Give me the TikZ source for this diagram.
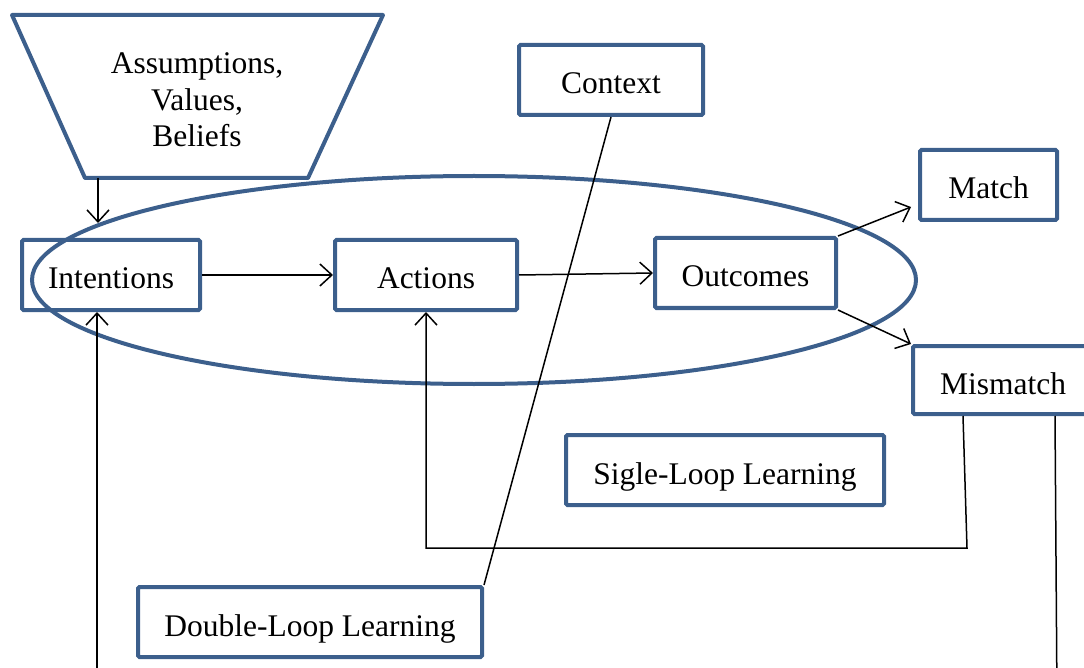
\documentclass[tikz,border=0pt]{standalone}
\usepackage{fontspec}
\setmainfont{Liberation Serif}
\usetikzlibrary{arrows.meta,calc}
\definecolor{boxblue}{RGB}{60,95,140}
\begin{document}
\begin{tikzpicture}[x=1pt,y=-1pt,
  font=\fontsize{31.5}{36.5}\selectfont,
  bx/.style={draw=boxblue,line width=4pt,rounded corners=1.5pt,minimum height=70pt,inner sep=0pt,align=center,text height=28pt,text depth=0pt},
  conn/.style={draw=black,line width=1.5pt},
  arr/.style={conn,-{Straight Barb[length=12pt,width=22pt,line width=1.5pt]}}]
\useasboundingbox (0,0) rectangle (1084,668);
\clip (0,0) rectangle (1084,668);
% trapezoid
\draw[boxblue,line width=4pt,line join=round] (12,15) -- (383,15) -- (308,178) -- (85,178) -- cycle;
\node[align=center] (abv) at (197,100) {Assumptions,\\Values,\\Beliefs};
\coordinate (trapb) at (98,178);
\coordinate (intin) at (98,223);
% ellipse
\draw[boxblue,line width=4pt] (474,280) ellipse [x radius=442, y radius=104];
% boxes
\node[bx,minimum width=184pt] (context) at (611,80) {Context};
\node[bx,minimum width=137pt] (match) at (988.5,185) {Match};
\node[bx,minimum width=178pt] (int) at (111,275) {Intentions};
\node[bx,minimum width=182pt] (act) at (426,275) {Actions};
\node[bx,minimum width=181pt] (out) at (745.5,273) {Outcomes};
\node[bx,minimum width=180pt,minimum height=68pt] (mis) at (1003,380) {Mismatch};
\node[bx,minimum width=318pt] (single) at (725,470) {Sigle-Loop Learning};
\node[bx,minimum width=344pt] (double) at (310,622) {Double-Loop Learning};
% connectors
\draw[arr] (trapb) -- (intin);
\draw[arr] (int.east) -- (act.west);
\draw[arr] (act.east) -- (out.west);
\draw[arr] (out.north east) -- ($(match.south west)+(-7,-15)$);
\draw[arr] (out.south east) -- (mis.north west);
\coordinate (sl1) at ($(mis.south west)+(52,0)$);
\coordinate (sl2) at (967,548);
\draw[arr] (sl1) -- (sl2) -| (act.south);
\coordinate (dl1) at ($(mis.south west)+(144,0)$);
\coordinate (dl2) at (1057,700);
\draw[conn] (dl1) -- (dl2);
\coordinate (dl3) at (97,700);
\draw[arr] (dl3) -- ($(int.south)+(-14,0)$);
\draw[conn] (context.south) -- (double.north east);
\end{tikzpicture}
\end{document}
